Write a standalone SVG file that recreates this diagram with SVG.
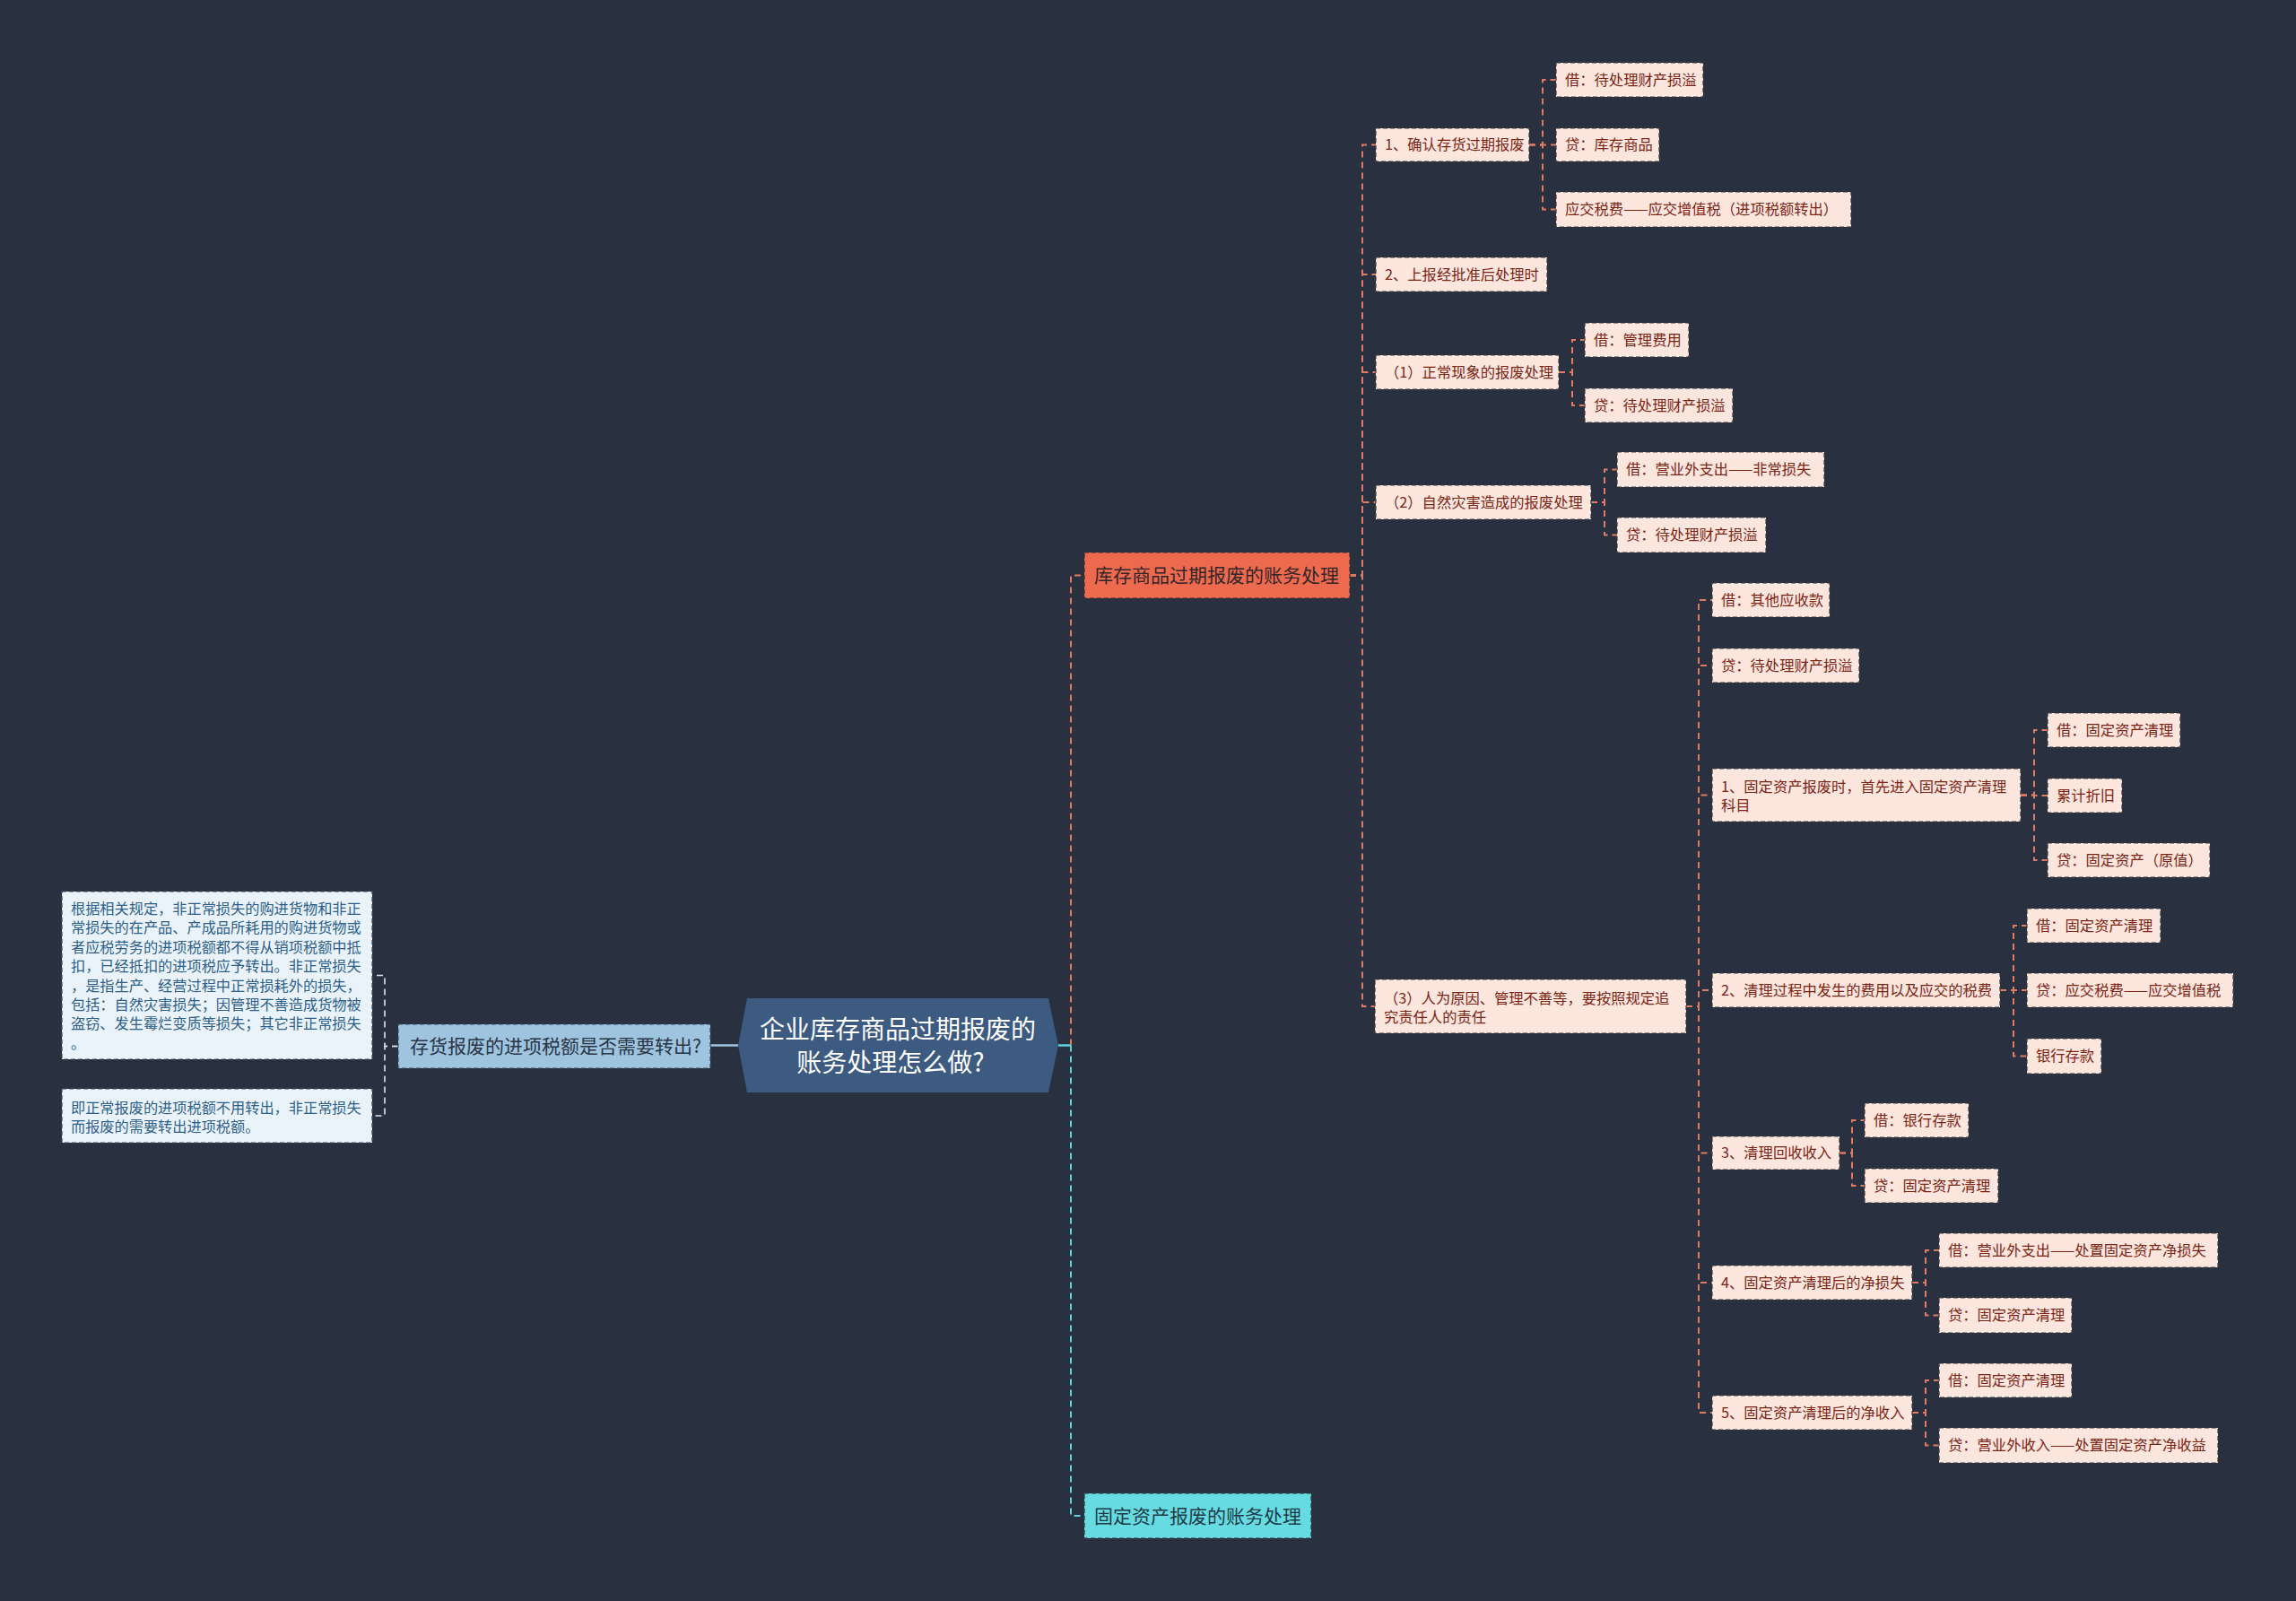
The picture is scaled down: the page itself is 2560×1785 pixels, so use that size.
<svg xmlns="http://www.w3.org/2000/svg" width="2560" height="1785" viewBox="0 0 2560 1785">
<style>
text{font-family:"Noto Sans CJK SC","Noto Sans",sans-serif}
.leaf rect{fill:#fde6de;stroke:#3a3a3a;stroke-width:1.2;stroke-dasharray:5 3}
.leaf text{font-size:16.3px;fill:#7b2414}
.note rect{fill:#eaf3f9;stroke:#3a4a5a;stroke-width:1.2;stroke-dasharray:5 3}
.note text{font-size:16.2px;fill:#2d5f8a}
.cr{fill:none;stroke:#e07b62;stroke-width:2;stroke-dasharray:7 5}
.cc{fill:none;stroke:#62d2de;stroke-width:2;stroke-dasharray:7 5}
.cl{fill:none;stroke:#dce6ee;stroke-width:1.6;stroke-dasharray:7 5}
</style>
<rect width="2560" height="1785" fill="#293140"/>
<g id="connectors">
<path d="M823,1165.5 H792" fill="none" stroke="#9fc4df" stroke-width="2.5"/>
<path class="cl" d="M444,1166.5 H429 V1087.5 H415"/>
<path class="cl" d="M444,1166.5 H429 V1244 H415"/>
<path d="M1180,1165.5 H1194" fill="none" stroke="#62d2de" stroke-width="2.5"/>
<path class="cr" d="M1194,1165.5 V641.5 H1209"/>
<path class="cc" d="M1194,1165.5 V1690 H1209"/>
<path class="cr" d="M1505,641.5 H1519 V161.5 H1534"/>
<path class="cr" d="M1505,641.5 H1519 V306 H1534"/>
<path class="cr" d="M1505,641.5 H1519 V415 H1534"/>
<path class="cr" d="M1505,641.5 H1519 V560 H1534"/>
<path class="cr" d="M1505,641.5 H1519 V1122 H1533"/>
<path class="cr" d="M1705,161.5 H1720 V89 H1735"/>
<path class="cr" d="M1705,161.5 H1720 V161.5 H1735"/>
<path class="cr" d="M1705,161.5 H1720 V233.5 H1735"/>
<path class="cr" d="M1738,415 H1753 V379 H1767"/>
<path class="cr" d="M1738,415 H1753 V452 H1767"/>
<path class="cr" d="M1774,560 H1789 V523.5 H1803"/>
<path class="cr" d="M1774,560 H1789 V596.5 H1803"/>
<path class="cr" d="M1880,1122 H1894 V669 H1909"/>
<path class="cr" d="M1880,1122 H1894 V742 H1909"/>
<path class="cr" d="M1880,1122 H1894 V886.5 H1909"/>
<path class="cr" d="M1880,1122 H1894 V1104 H1909"/>
<path class="cr" d="M1880,1122 H1894 V1285.5 H1909"/>
<path class="cr" d="M1880,1122 H1894 V1430 H1909"/>
<path class="cr" d="M1880,1122 H1894 V1575 H1909"/>
<path class="cr" d="M2253,886.5 H2268 V814 H2283"/>
<path class="cr" d="M2253,886.5 H2268 V887 H2283"/>
<path class="cr" d="M2253,886.5 H2268 V959 H2283"/>
<path class="cr" d="M2230,1104 H2245 V1032 H2260"/>
<path class="cr" d="M2230,1104 H2245 V1104 H2260"/>
<path class="cr" d="M2230,1104 H2245 V1177.5 H2260"/>
<path class="cr" d="M2051,1285.5 H2065 V1249 H2079"/>
<path class="cr" d="M2051,1285.5 H2065 V1322 H2079"/>
<path class="cr" d="M2132,1430 H2147 V1394 H2162"/>
<path class="cr" d="M2132,1430 H2147 V1466.5 H2162"/>
<path class="cr" d="M2132,1575 H2147 V1539 H2162"/>
<path class="cr" d="M2132,1575 H2147 V1611.5 H2162"/>
</g>
<g id="root">
<polygon points="823,1165.5 833,1113 1169,1113 1180,1165.5 1169,1218 833,1218" fill="#3d5a80"/>
<text x="1001" y="1158" font-size="28" fill="#ffffff" text-anchor="middle">企业库存商品过期报废的</text>
<text x="993" y="1195" font-size="28" fill="#ffffff" text-anchor="middle">账务处理怎么做?</text>
</g>
<g id="q">
<rect x="444" y="1142" width="348" height="49" fill="#9fc4df" stroke="#3a4a5a" stroke-width="1.2" stroke-dasharray="5 3"/>
<text x="457" y="1174" font-size="21" fill="#2a3546">存货报废的进项税额是否需要转出?</text>
</g>
<g id="note1" class="note">
<rect x="69" y="994" width="346" height="187"/>
<text x="79" y="1019">根据相关规定，非正常损失的购进货物和非正</text>
<text x="79" y="1040.4">常损失的在产品、产成品所耗用的购进货物或</text>
<text x="79" y="1061.8">者应税劳务的进项税额都不得从销项税额中抵</text>
<text x="79" y="1083.2">扣，已经抵扣的进项税应予转出。非正常损失</text>
<text x="79" y="1104.6">，是指生产、经营过程中正常损耗外的损失，</text>
<text x="79" y="1126">包括：自然灾害损失；因管理不善造成货物被</text>
<text x="79" y="1147.4">盗窃、发生霉烂变质等损失；其它非正常损失</text>
<text x="79" y="1168.8">。</text>
</g>
<g id="note2" class="note">
<rect x="69" y="1214" width="346" height="60"/>
<text x="79" y="1240.5">即正常报废的进项税额不用转出，非正常损失</text>
<text x="79" y="1261.5">而报废的需要转出进项税额。</text>
</g>
<g id="branch1">
<rect x="1209" y="616" width="296" height="51" fill="#ee6a4e" stroke="#3a2a2a" stroke-width="1.2" stroke-dasharray="5 3"/>
<text x="1220" y="649" font-size="21" fill="#33262a">库存商品过期报废的账务处理</text>
</g>
<g id="branch2">
<rect x="1209" y="1665" width="253" height="50" fill="#67dbe2" stroke="#2a3a44" stroke-width="1.2" stroke-dasharray="5 3"/>
<text x="1220" y="1697.5" font-size="21" fill="#1d3b47">固定资产报废的账务处理</text>
</g>
<g id="n1" class="leaf"><rect x="1534" y="143" width="171" height="37"/><text x="1544" y="167.3">1、确认存货过期报废</text></g>
<g id="n1a" class="leaf"><rect x="1735" y="70" width="164" height="38"/><text x="1745" y="94.8">借：待处理财产损溢</text></g>
<g id="n1b" class="leaf"><rect x="1735" y="143" width="115" height="37"/><text x="1745" y="167.3">贷：库存商品</text></g>
<g id="n1c" class="leaf"><rect x="1735" y="214" width="329" height="39"/><text x="1745" y="239.3">应交税费——应交增值税（进项税额转出）</text></g>
<g id="n2" class="leaf"><rect x="1534" y="287" width="191" height="38"/><text x="1544" y="311.8">2、上报经批准后处理时</text></g>
<g id="n3" class="leaf"><rect x="1534" y="396" width="204" height="38"/><text x="1544" y="420.8">（1）正常现象的报废处理</text></g>
<g id="n3a" class="leaf"><rect x="1767" y="360" width="116" height="38"/><text x="1777" y="384.8">借：管理费用</text></g>
<g id="n3b" class="leaf"><rect x="1767" y="433" width="165" height="38"/><text x="1777" y="457.8">贷：待处理财产损溢</text></g>
<g id="n4" class="leaf"><rect x="1534" y="541" width="240" height="38"/><text x="1544" y="565.8">（2）自然灾害造成的报废处理</text></g>
<g id="n4a" class="leaf"><rect x="1803" y="504" width="231" height="39"/><text x="1813" y="529.3">借：营业外支出——非常损失</text></g>
<g id="n4b" class="leaf"><rect x="1803" y="577" width="166" height="39"/><text x="1813" y="602.3">贷：待处理财产损溢</text></g>
<g id="n5" class="leaf"><rect x="1533" y="1092" width="347" height="60"/><text x="1543" y="1118.8">（3）人为原因、管理不善等，要按照规定追</text><text x="1543" y="1139.8">究责任人的责任</text></g>
<g id="n5a" class="leaf"><rect x="1909" y="650" width="131" height="38"/><text x="1919" y="674.8">借：其他应收款</text></g>
<g id="n5b" class="leaf"><rect x="1909" y="723" width="164" height="38"/><text x="1919" y="747.8">贷：待处理财产损溢</text></g>
<g id="n5c" class="leaf"><rect x="1909" y="857" width="344" height="59"/><text x="1919" y="882.8">1、固定资产报废时，首先进入固定资产清理</text><text x="1919" y="903.8">科目</text></g>
<g id="n5c1" class="leaf"><rect x="2283" y="795" width="148" height="38"/><text x="2293" y="819.8">借：固定资产清理</text></g>
<g id="n5c2" class="leaf"><rect x="2283" y="868" width="83" height="38"/><text x="2293" y="892.8">累计折旧</text></g>
<g id="n5c3" class="leaf"><rect x="2283" y="940" width="181" height="38"/><text x="2293" y="964.8">贷：固定资产（原值）</text></g>
<g id="n5d" class="leaf"><rect x="1909" y="1085" width="321" height="38"/><text x="1919" y="1109.8">2、清理过程中发生的费用以及应交的税费</text></g>
<g id="n5d1" class="leaf"><rect x="2260" y="1013" width="149" height="38"/><text x="2270" y="1037.8">借：固定资产清理</text></g>
<g id="n5d2" class="leaf"><rect x="2260" y="1085" width="230" height="38"/><text x="2270" y="1109.8">贷：应交税费——应交增值税</text></g>
<g id="n5d3" class="leaf"><rect x="2260" y="1158" width="83" height="39"/><text x="2270" y="1183.3">银行存款</text></g>
<g id="n5e" class="leaf"><rect x="1909" y="1267" width="142" height="37"/><text x="1919" y="1291.3">3、清理回收收入</text></g>
<g id="n5e1" class="leaf"><rect x="2079" y="1230" width="116" height="38"/><text x="2089" y="1254.8">借：银行存款</text></g>
<g id="n5e2" class="leaf"><rect x="2079" y="1303" width="149" height="38"/><text x="2089" y="1327.8">贷：固定资产清理</text></g>
<g id="n5f" class="leaf"><rect x="1909" y="1411" width="223" height="38"/><text x="1919" y="1435.8">4、固定资产清理后的净损失</text></g>
<g id="n5f1" class="leaf"><rect x="2162" y="1375" width="311" height="38"/><text x="2172" y="1399.8">借：营业外支出——处置固定资产净损失</text></g>
<g id="n5f2" class="leaf"><rect x="2162" y="1447" width="148" height="39"/><text x="2172" y="1472.3">贷：固定资产清理</text></g>
<g id="n5g" class="leaf"><rect x="1909" y="1556" width="223" height="38"/><text x="1919" y="1580.8">5、固定资产清理后的净收入</text></g>
<g id="n5g1" class="leaf"><rect x="2162" y="1520" width="148" height="38"/><text x="2172" y="1544.8">借：固定资产清理</text></g>
<g id="n5g2" class="leaf"><rect x="2162" y="1592" width="311" height="39"/><text x="2172" y="1617.3">贷：营业外收入——处置固定资产净收益</text></g>
</svg>
